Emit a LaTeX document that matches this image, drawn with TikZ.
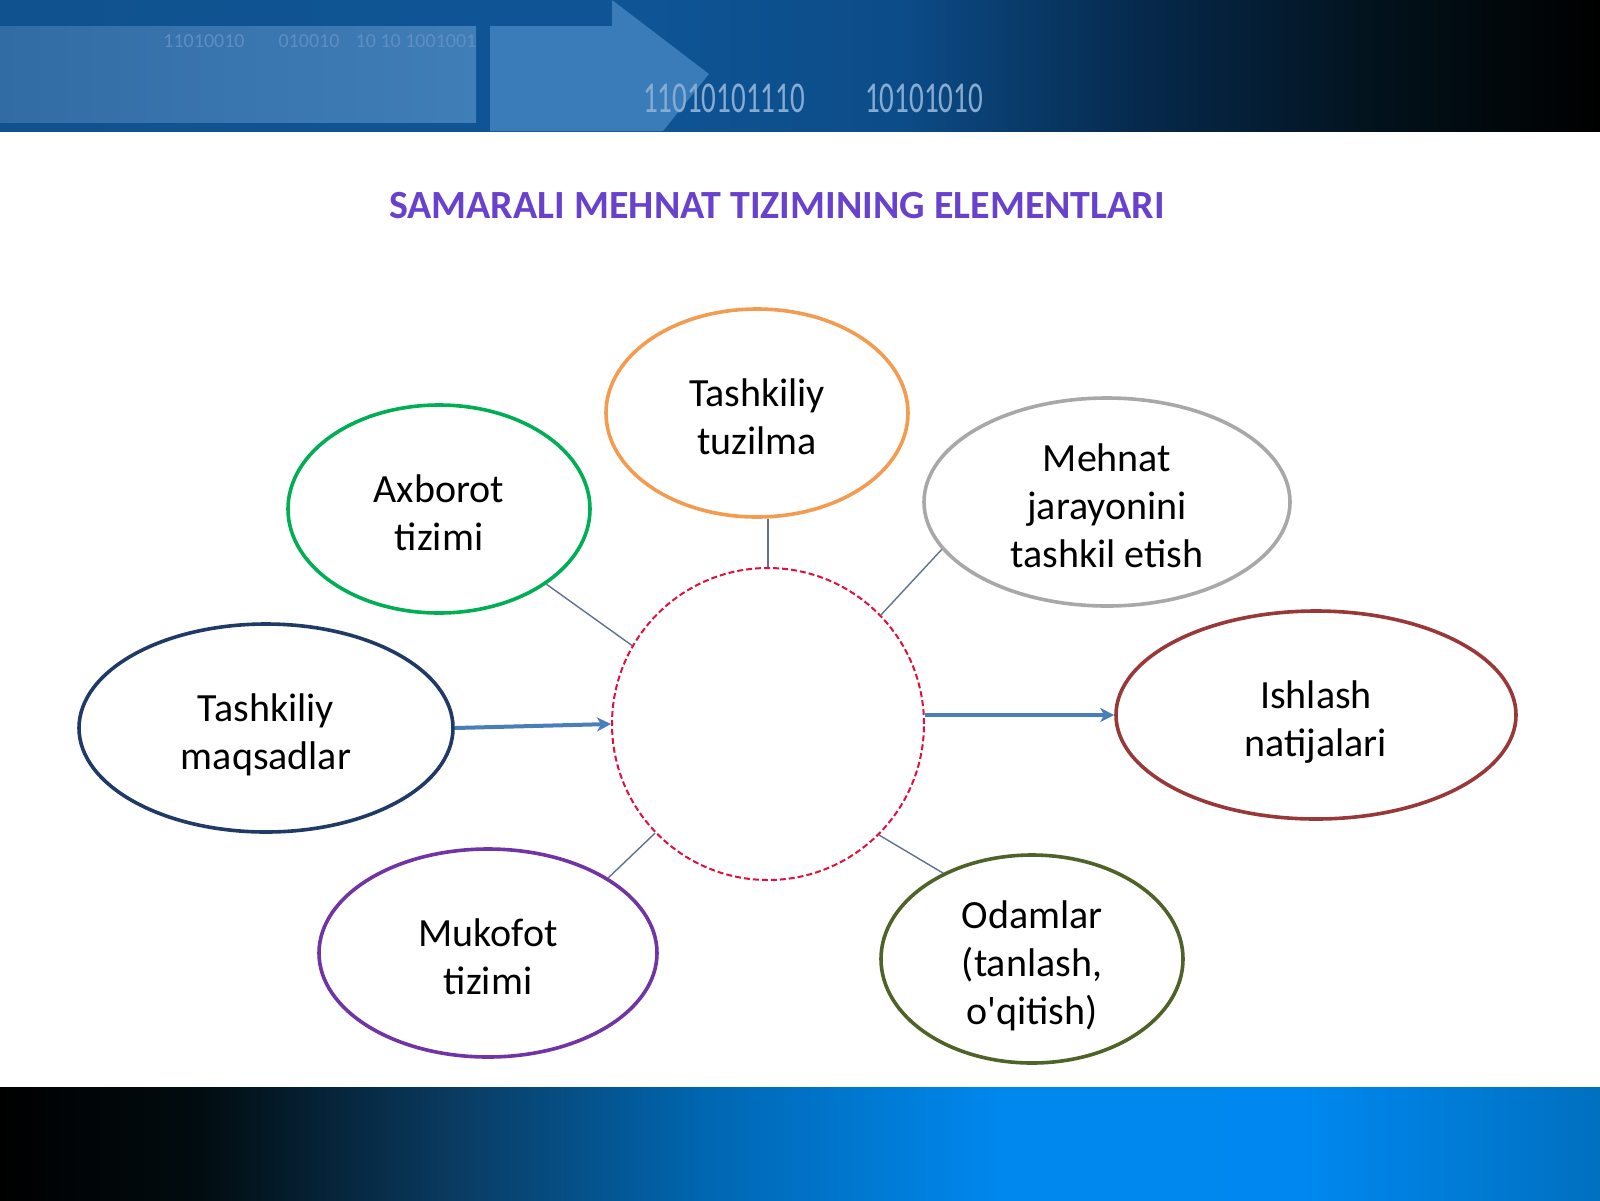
\documentclass[tikz,border=0pt]{standalone}
\usepackage{fontspec}
\setmainfont{Carlito}
\usetikzlibrary{shapes.geometric,arrows.meta}
\definecolor{orangec}{HTML}{F39C50}
\definecolor{greenc}{HTML}{00AE55}
\definecolor{grayc}{HTML}{A8A8A8}
\definecolor{navyc}{HTML}{1F3A64}
\definecolor{redbc}{HTML}{983838}
\definecolor{purplec}{HTML}{7034A4}
\definecolor{olivec}{HTML}{4F6228}
\definecolor{titlec}{HTML}{6842CC}
\definecolor{dashc}{HTML}{E0103E}
\definecolor{flowc}{HTML}{4A7EBB}
\definecolor{linkc}{HTML}{5F7390}
\definecolor{binc}{HTML}{86ACD4}
\definecolor{binf}{HTML}{5F8EC2}
\definecolor{ta}{HTML}{10528F}
\definecolor{tb}{HTML}{0F5596}
\definecolor{tc}{HTML}{0C4C88}
\definecolor{td}{HTML}{06284A}
\definecolor{te}{HTML}{021018}
\definecolor{la}{HTML}{326CA5}
\definecolor{lb}{HTML}{407EB8}
\definecolor{arr}{HTML}{3A7CBA}
\definecolor{ba}{HTML}{010C10}
\definecolor{bb}{HTML}{0A3A60}
\definecolor{bc}{HTML}{0066B0}
\definecolor{bd}{HTML}{0088EE}
\definecolor{be}{HTML}{0088F0}
\definecolor{bf}{HTML}{0070C0}
\newcommand\ctext[1]{\raisebox{-4pt}[\height][\depth]{\begin{tabular}{@{}c@{}}#1\end{tabular}}}
\begin{document}
\begin{tikzpicture}[x=0.5pt,y=-0.5pt,
  elem/.style={ellipse, draw, line width=1.8pt, inner sep=0pt,
    font=\fontsize{20}{24}\selectfont, text=black},
  link/.style={draw=linkc, line width=0.7pt},
  flow/.style={draw=flowc, line width=2pt, -{Stealth[length=7pt,width=7pt,inset=2pt]}}]
\useasboundingbox (0,0) rectangle (1600,1200);
\fill[white] (0,0) rectangle (1600,1200);
% top banner
\shade[left color=ta, right color=tb] (0,0) rectangle (621,131);
\shade[left color=tb, right color=tc] (620,0) rectangle (901,131);
\shade[left color=tc, right color=td] (900,0) rectangle (1151,131);
\shade[left color=td, right color=te] (1150,0) rectangle (1401,131);
\shade[left color=te, right color=black] (1400,0) rectangle (1600,131);
\shade[left color=la, right color=lb] (0,26) rectangle (476,122);
\fill[arr] (490,26) -- (612,26) -- (612,0) -- (709,74) -- (663,131) -- (490,131) -- cycle;
\node[text=binf, font=\fontsize{10}{10}\selectfont] (bin0a) at (204,41) {11010010};
\node[text=binf, font=\fontsize{10}{10}\selectfont] (bin0b) at (309,41) {010010};
\node[text=binf, font=\fontsize{10}{10}\selectfont] (bin0c) at (416,41) {10 10 1001001};
\node[text=binc, font=\fontsize{22}{22}\selectfont] (bin1) at (724,98) {\scalebox{0.66}[1]{11010101110}};
\node[text=binc, font=\fontsize{22}{22}\selectfont] (bin2) at (924,98) {\scalebox{0.66}[1]{10101010}};
% bottom banner
\shade[left color=black, right color=ba] (0,1087) rectangle (201,1200);
\shade[left color=ba, right color=bb] (200,1087) rectangle (451,1200);
\shade[left color=bb, right color=bc] (450,1087) rectangle (701,1200);
\shade[left color=bc, right color=bd] (700,1087) rectangle (1001,1200);
\shade[left color=bd, right color=be] (1000,1087) rectangle (1301,1200);
\shade[left color=be, right color=bf] (1300,1087) rectangle (1600,1200);
% title
\node[font=\bfseries\fontsize{20}{24}\selectfont, text=titlec] (title) at (777,206) {SAMARALI MEHNAT TIZIMINING ELEMENTLARI};
% centre
\node[circle, draw=dashc, line width=1pt, dash pattern=on 3pt off 1.5pt, minimum size=156pt, inner sep=0pt] (c) at (768,724) {};
% elements
\node[elem, draw=orangec, minimum width=151pt, minimum height=104pt] (tz) at (757,413) {\ctext{Tashkiliy\\tuzilma}};
\node[elem, draw=greenc, minimum width=151pt, minimum height=104pt] (ax) at (439,509) {\ctext{Axborot\\tizimi}};
\node[elem, draw=grayc, minimum width=183pt, minimum height=104pt] (mj) at (1107,502) {\ctext{Mehnat\\jarayonini\\tashkil etish}};
\node[elem, draw=navyc, minimum width=187pt, minimum height=104pt] (mq) at (266,728) {\ctext{Tashkiliy\\maqsadlar}};
\node[elem, draw=redbc, minimum width=200pt, minimum height=104pt] (nt) at (1316,715) {\ctext{Ishlash\\natijalari}};
\node[elem, draw=purplec, minimum width=169pt, minimum height=104pt] (mk) at (488,953) {\ctext{Mukofot\\tizimi}};
\node[elem, draw=olivec, minimum width=151pt, minimum height=104pt] (od) at (1032,959) {\ctext{Odamlar\\(tanlash,\\o\textquotesingle qitish)}};
% connectors
\draw[link] (c.north) -- (c.north |- tz.south);
\draw[link] (ax.-35) -- (c.150);
\draw[link] (mj.196) -- (c.44);
\draw[link] (mk.32) -- (c.224);
\draw[link] (od.136) -- (c.315);
\draw[flow] (mq.east) -- (c.west);
\draw[flow] (nt.west -| c.east) -- (nt.west);
\end{tikzpicture}
\end{document}
